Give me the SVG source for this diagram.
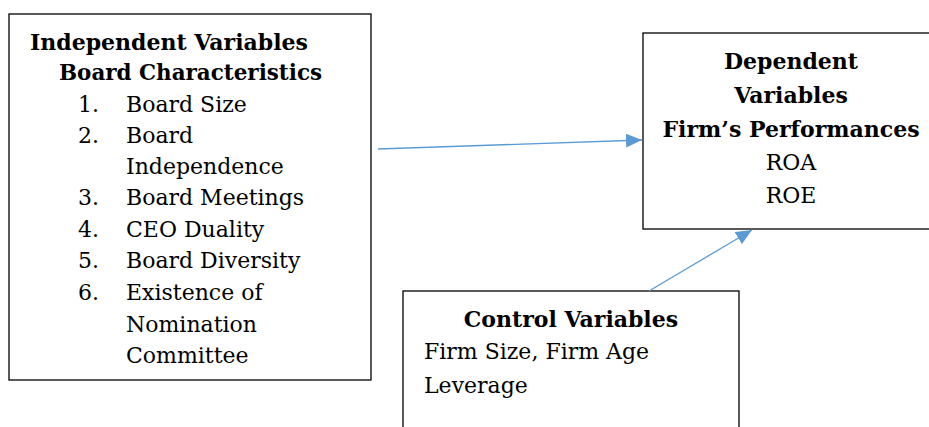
<svg xmlns="http://www.w3.org/2000/svg" width="929" height="427" viewBox="0 0 929 427">
<defs>
<style>
.box{fill:#fff;stroke:#000;stroke-width:1.3}
text{font-family:"DejaVu Serif","Liberation Serif",serif;font-size:22px;fill:#000}
.b{font-weight:bold}
.c{text-anchor:middle}
.conn{stroke:#5b9bd5;stroke-width:1.3;fill:none}
</style>
<marker id="ah" viewBox="0 0 16 14" refX="16" refY="7" markerWidth="16" markerHeight="14" markerUnits="userSpaceOnUse" orient="auto">
<path d="M0,0 L16,7 L0,14 z" fill="#5b9bd5"/>
</marker>
</defs>
<rect width="929" height="427" fill="#fff"/>
<g id="independent">
<rect class="box" x="9" y="14" width="362" height="366"/>
<text class="b" x="30" y="50">Independent Variables</text>
<text class="b" x="59" y="80" textLength="263" lengthAdjust="spacingAndGlyphs">Board Characteristics</text>
<text x="78" y="112">1.</text><text x="126" y="112">Board Size</text>
<text x="78" y="143">2.</text><text x="126" y="143">Board</text>
<text x="126" y="174">Independence</text>
<text x="78" y="205">3.</text><text x="126" y="205">Board Meetings</text>
<text x="78" y="237">4.</text><text x="126" y="237">CEO Duality</text>
<text x="78" y="268">5.</text><text x="126" y="268">Board Diversity</text>
<text x="78" y="300">6.</text><text x="126" y="300">Existence of</text>
<text x="126" y="332">Nomination</text>
<text x="126" y="363">Committee</text>
</g>
<g id="dependent">
<rect class="box" x="643" y="33" width="290" height="196"/>
<text class="b c" x="791" y="69">Dependent</text>
<text class="b c" x="791" y="103">Variables</text>
<text class="b c" x="791" y="137">Firm’s Performances</text>
<text class="c" x="791" y="170">ROA</text>
<text class="c" x="791" y="203">ROE</text>
</g>
<g id="control">
<rect class="box" x="403" y="291" width="336" height="150"/>
<text class="b c" x="571" y="327">Control Variables</text>
<text x="424" y="359">Firm Size, Firm Age</text>
<text x="424" y="393">Leverage</text>
</g>
<g id="connectors">
<line class="conn" x1="378" y1="149" x2="642" y2="140" marker-end="url(#ah)"/>
<line class="conn" x1="649" y1="291" x2="752" y2="230" marker-end="url(#ah)"/>
</g>
</svg>
